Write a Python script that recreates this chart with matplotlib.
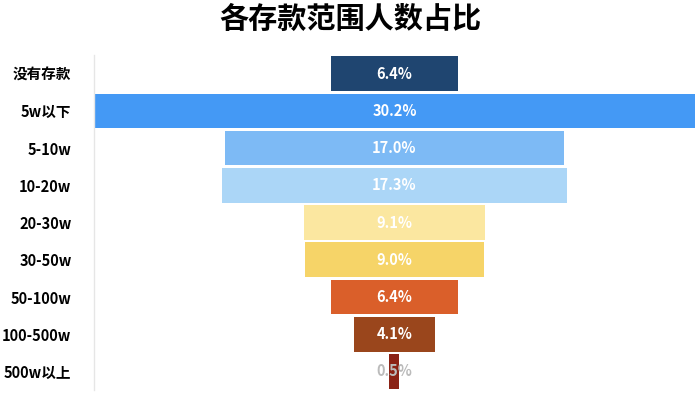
import matplotlib
matplotlib.use("Agg")
import matplotlib.pyplot as plt

plt.rcParams['font.family'] = ['Noto Sans CJK SC', 'DejaVu Sans']

categories = ["没有存款", "5w以下", "5-10w", "10-20w", "20-30w", "30-50w", "50-100w", "100-500w", "500w以上"]
values = [6.4, 30.2, 17.0, 17.3, 9.1, 9.0, 6.4, 4.1, 0.5]
colors = ["#1F4570", "#4499F5", "#7DBAF5", "#ABD6F7", "#FBE7A0", "#F6D468", "#DA5F2A", "#9A461C", "#8B2215"]
label_colors = ["white"] * 8 + ["#BBBBBB"]

fig = plt.figure(figsize=(7, 3.96), dpi=100)
ax = fig.add_axes([0.134, 0.015, 0.859, 0.846])

ypos = list(range(len(categories)))
lefts = [-v / 2 for v in values]
ax.barh(ypos, values, left=lefts, height=0.93, color=colors, edgecolor="none")
for y, v, c in zip(ypos, values, label_colors):
    ax.text(0, y, f"{v:.1f}%", ha="center", va="center", color=c,
            fontsize=10.5, fontweight="bold")

ax.set_xlim(-max(values) / 2, max(values) / 2)
ax.set_ylim(len(categories) - 0.5, -0.5)
ax.set_yticks(ypos)
ax.set_yticklabels(categories, fontsize=10.5, fontweight="bold")
ax.set_xticks([])
ax.tick_params(axis="y", length=0, pad=16)
for s in ["top", "right", "bottom"]:
    ax.spines[s].set_visible(False)
ax.spines["left"].set_color("#E6E6E6")
ax.spines["left"].set_linewidth(1)

fig.suptitle("各存款范围人数占比", fontsize=21, fontweight="bold", y=0.99)
fig.savefig("out.png", dpi=100)
